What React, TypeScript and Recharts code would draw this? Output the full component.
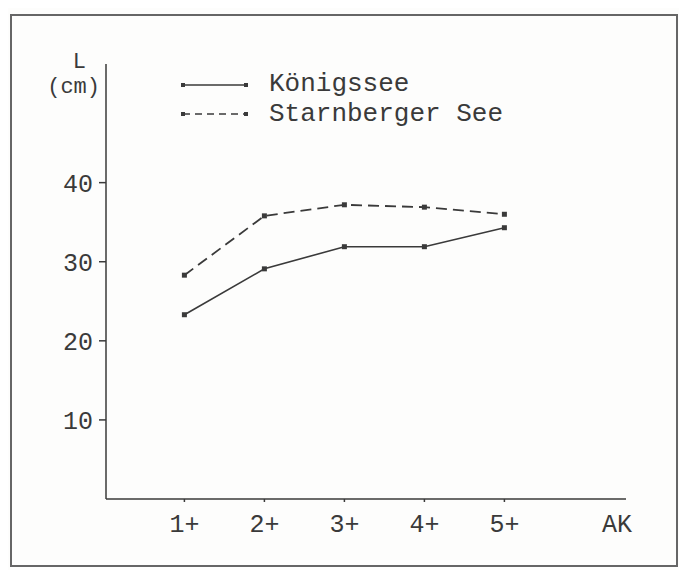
import React from "react";
import {
  LineChart,
  Line,
  XAxis,
  YAxis,
  Label,
} from "recharts";

// Altersklassen (AK) 1+ ... 5+
const ageClasses = [1, 2, 3, 4, 5];
const koenigssee = [23.3, 29.1, 31.9, 31.9, 34.3];
const starnberger = [28.3, 35.8, 37.2, 36.9, 36.0];
const yTicks = [10, 20, 30, 40];
const seriesNames = ["Königssee", "Starnberger See"];

const data = ageClasses.map((ak, i) => ({
  ak,
  koenigssee: koenigssee[i],
  starnberger: starnberger[i],
}));

const ink = "#3a3a3a";
const mono = "'Liberation Mono', 'Courier New', monospace";

const Dot = (props: any) => {
  const { cx, cy } = props;
  if (cx == null || cy == null) return null;
  return <rect x={cx - 2.5} y={cy - 2.5} width={5} height={5} fill={ink} />;
};

// legend drawn as an overlay so it does not eat plot space
const LegendBox = () => (
  <svg
    width={360}
    height={60}
    style={{ position: "absolute", left: 180, top: 71, overflow: "visible" }}
  >
    <g fontFamily={mono} fontSize={26} fill={ink}>
      <line x1={3} y1={14} x2={66} y2={14} stroke={ink} strokeWidth={1.5} />
      <rect x={1} y={12} width={4} height={4} fill={ink} />
      <rect x={64} y={12} width={4} height={4} fill={ink} />
      <text x={89} y={13} dominantBaseline="central">{seriesNames[0]}</text>
      <line
        x1={3}
        y1={43}
        x2={66}
        y2={43}
        stroke={ink}
        strokeWidth={1.5}
        strokeDasharray="7 5"
      />
      <rect x={1} y={41} width={4} height={4} fill={ink} />
      <rect x={64} y={41} width={4} height={4} fill={ink} />
      <text x={89} y={43} dominantBaseline="central">{seriesNames[1]}</text>
    </g>
  </svg>
);

const App = () => {
  return (
    <div
      style={{
        position: "relative",
        width: 687,
        height: 570,
        margin: "-8px 0 0 -8px",
        background: "#fdfdfc",
      }}
    >
      <div
        style={{
          position: "absolute",
          left: 10,
          top: 14,
          width: 664,
          height: 549,
          border: "2px solid #666",
        }}
      />
      <LineChart
        width={687}
        height={570}
        data={data}
        margin={{ top: 64, right: 61, left: 46, bottom: 0 }}
        style={{ position: "absolute", left: 0, top: 0 }}
      >
        <XAxis
          dataKey="ak"
          type="number"
          domain={[0.02, 6.52]}
          ticks={ageClasses}
          tickFormatter={(v: number) => `${v}+`}
          stroke={ink}
          strokeWidth={1.5}
          tickSize={3}
          tickMargin={12}
          tick={{ fill: ink, fontFamily: mono, fontSize: 25 }}
          height={71}
        >
          <Label
            content={(p: any) => {
              const vb = p.viewBox || {};
              return (
                <text
                  x={vb.x + vb.width - 9}
                  y={vb.y + 26}
                  textAnchor="middle"
                  dominantBaseline="central"
                  fontFamily={mono}
                  fontSize={25}
                  fill={ink}
                >
                  AK
                </text>
              );
            }}
          />
        </XAxis>
        <YAxis
          type="number"
          domain={[0, 55]}
          ticks={yTicks}
          stroke={ink}
          strokeWidth={1.5}
          tickSize={7}
          tickMargin={6}
          tick={{ fill: ink, fontFamily: mono, fontSize: 25 }}
          width={60}
        >
          <Label
            content={(p: any) => {
              const vb = p.viewBox || {};
              const right = vb.x + vb.width - 6;
              return (
                <g fontFamily={mono} fontSize={22} fill={ink}>
                  <text x={right - 14} y={vb.y - 2} textAnchor="end" dominantBaseline="central">
                    L
                  </text>
                  <text x={right} y={vb.y + 23} textAnchor="end" dominantBaseline="central">
                    (cm)
                  </text>
                </g>
              );
            }}
          />
        </YAxis>
        <Line
          dataKey="koenigssee"
          name={seriesNames[0]}
          stroke={ink}
          strokeWidth={1.6}
          dot={<Dot />}
          activeDot={false}
          isAnimationActive={false}
        />
        <Line
          dataKey="starnberger"
          name={seriesNames[1]}
          stroke={ink}
          strokeWidth={1.8}
          strokeDasharray="11 6"
          dot={<Dot />}
          activeDot={false}
          isAnimationActive={false}
        />
      </LineChart>
      <LegendBox />
    </div>
  );
};

export default App;
